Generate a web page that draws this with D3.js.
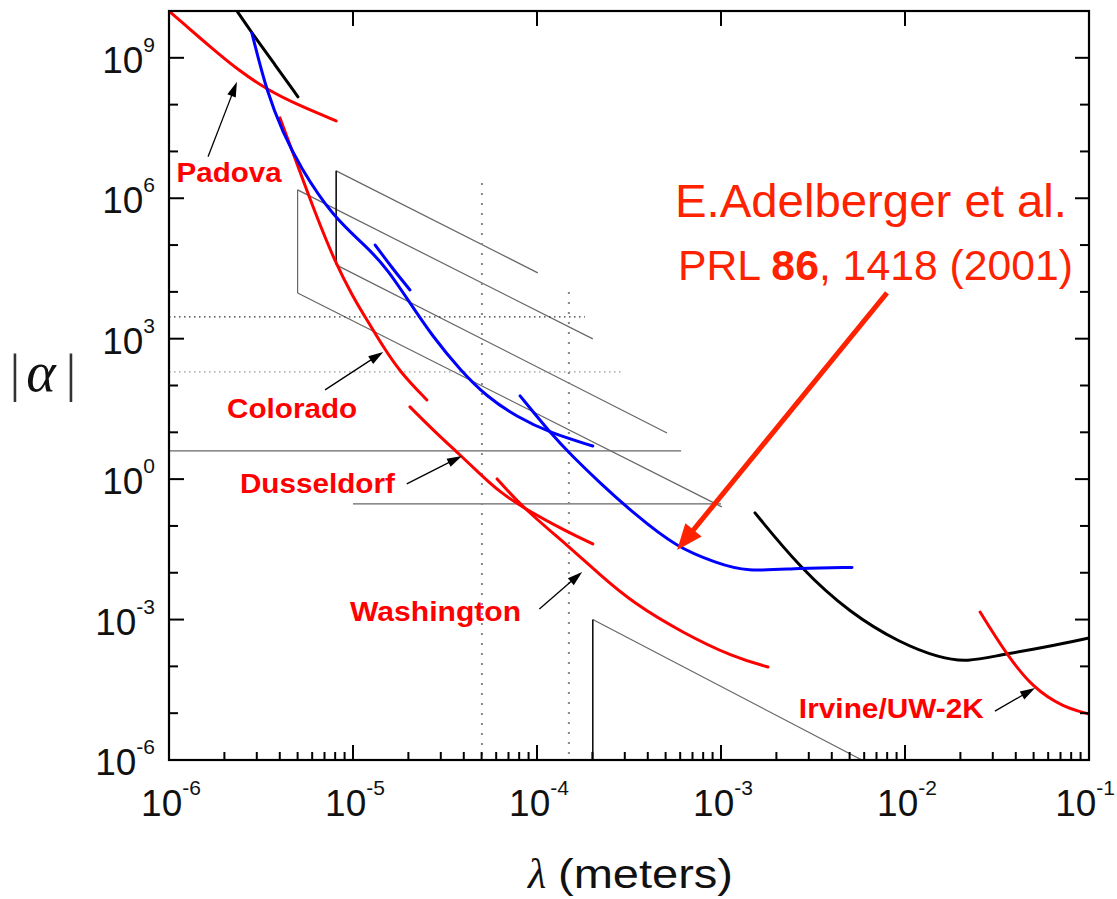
<!DOCTYPE html>
<html>
<head>
<meta charset="utf-8">
<script src="https://cdn.jsdelivr.net/npm/d3@7"></script>
<style>
  body { margin: 0; background: #fff; }
  svg { display: block; }
</style>
</head>
<body>
<div id="chart"></div>
<script>
// ---- data: [lambda (m), |alpha|] ----
const blackTop = [[2.34e-6, 1e10], [2.82e-6, 3.42e9], [3.77e-6, 7.1e8], [5.02e-6, 1.47e8]];
const padova = [[1e-6, 1e10], [1.22e-6, 5.07e9], [1.47e-6, 2.67e9], [1.89e-6, 1.16e9], [2.34e-6, 5.82e8],
                [3.41e-6, 2.07e8], [5.15e-6, 9.4e7], [8.1e-6, 4.5e7]];
const blueA = [[2.82e-6, 3.42e9], [3.41e-6, 1.79e8], [4.17e-6, 2.5e7], [5.15e-6, 4.7e6], [7.78e-6, 4.0e5],
               [1.19e-5, 9.2e4], [1.55e-5, 2.95e4], [2.04e-5, 5.8e3], [2.72e-5, 1.09e3], [3.82e-5, 215],
               [5.35e-5, 57], [7.78e-5, 21.3], [1.18e-4, 9.7], [2.01e-4, 5.1]];
const blueB = [[1.32e-5, 1.0e5], [1.63e-5, 3.26e4], [2.04e-5, 1.1e4]];
const blueC = [[8.09e-5, 60], [1.18e-4, 9.7], [1.57e-4, 2.98], [2.2e-4, 0.83], [3.33e-4, 0.19],
               [5.77e-4, 0.034], [9.5e-4, 0.0162], [1.35e-3, 0.0104], [2.69e-3, 0.0127], [5.15e-3, 0.013]];
const colorado = [[4.01e-6, 5.2e7], [5.15e-6, 3.66e6], [6.29e-6, 4.4e5], [7.98e-6, 4.38e4], [1e-5, 7.8e3],
                  [1.19e-5, 2.52e3], [1.46e-5, 668], [1.8e-5, 195], [2.52e-5, 49]];
const dusseldorf = [[2.04e-5, 34.9], [2.79e-5, 10.2], [3.82e-5, 3.29], [5.1e-5, 1.11], [6.3e-5, 0.53],
                    [8.4e-5, 0.243], [1.46e-4, 0.0745], [2.01e-4, 0.0412]];
const washington = [[6.07e-5, 1.01], [8.4e-5, 0.243], [1.46e-4, 0.039], [2.2e-4, 8.97e-3], [3.33e-4, 2.26e-3],
                    [6.21e-4, 5.18e-4], [1.16e-3, 1.59e-4], [1.8e-3, 9.7e-5]];
const blackRight = [[1.53e-3, 0.19], [2.69e-3, 0.0127], [5.02e-3, 1.38e-3], [9.4e-3, 3.16e-4], [1.55e-2, 1.51e-4],
                    [2.17e-2, 1.24e-4], [3.28e-2, 1.75e-4], [5.92e-2, 2.6e-4], [0.1, 4.05e-4]];
const irvine = [[2.56e-2, 1.45e-3], [3.58e-2, 1.75e-4], [4.97e-2, 3.45e-5], [7.23e-2, 1.35e-5], [0.1, 9.6e-6]];

// thin projection / limit lines
const grayLines = [
  [[5.0e-6, 1.51e6], [5.0e-6, 9.5e3]],
  [[5.0e-6, 1.51e6], [2.01e-4, 991]],
  [[5.0e-6, 9.5e3], [1.01e-3, 0.255]],
  [[8.1e-6, 3.85e6], [1.01e-4, 2.55e4]],
  [[8.1e-6, 3.78e4], [5.09e-4, 9.7]],
  [[1e-6, 4.0], [6.07e-4, 4.0]],
  [[1e-5, 0.295], [1e-3, 0.295]],
  [[2.01e-4, 1e-3], [5.83e-3, 1e-6]]
];
const blackThin = [
  [[8.1e-6, 3.85e6], [8.1e-6, 3.78e4]],
  [[2.01e-4, 1e-6], [2.01e-4, 1e-3]]
];
const darkDotted = [[[1e-6, 2.93e3], [1.82e-4, 2.93e3]]];
const lightDotted = [[[1e-6, 195], [2.93e-4, 195]]];
const wideDotted = [
  [[5.02e-5, 2.13e6], [5.02e-5, 1e-6]],
  [[1.49e-4, 1e4], [1.49e-4, 1e-6]]
];

// labels and their arrows (tail -> tip)
const labelNames = ["Padova", "Colorado", "Dusseldorf", "Washington", "Irvine/UW-2K"];
const labelPos = [[1.10e-6, 2.24e6], [2.07e-6, 20.3], [2.43e-6, 0.507], [9.64e-6, 9.3e-4], [2.65e-3, 7.9e-6]];
const labelWidth = [105, 130, 155, 171, 185];
const arrows = [
  [[1.63e-6, 7.7e6], [2.34e-6, 3.07e8]],
  [[7.05e-6, 80.5], [1.46e-5, 522]],
  [[1.96e-5, 0.79], [3.91e-5, 3.13]],
  [[1.03e-4, 1.68e-3], [1.76e-4, 0.0104]],
  [[3.08e-2, 1.11e-5], [5.09e-2, 3.45e-5]]
];
const refArrow = [[7.98e-3, 9.5e3], [5.77e-4, 0.0307]];

const xMajor = [-6, -5, -4, -3, -2, -1];
const yMajor = [-6, -3, 0, 3, 6, 9];

// ---- chart ----
const width = 1117, height = 899;
const x = d3.scaleLog().domain([1e-6, 1e-1]).range([169, 1089]);
const y = d3.scaleLog().domain([1e-6, 1e10]).range([760, 11]);

const svg = d3.select("#chart").append("svg")
    .attr("width", width)
    .attr("height", height)
    .attr("font-family", "'Liberation Sans', Arial, sans-serif");

svg.append("clipPath").attr("id", "plotClip")
  .append("rect")
    .attr("x", x.range()[0]).attr("y", y.range()[1])
    .attr("width", x.range()[1] - x.range()[0])
    .attr("height", y.range()[0] - y.range()[1]);

const plot = svg.append("g").attr("clip-path", "url(#plotClip)");

const seg = d3.line().x(d => x(d[0])).y(d => y(d[1]));
const curve = d3.line().x(d => x(d[0])).y(d => y(d[1])).curve(d3.curveBasis);

function drawSegs(list, color, w, dash) {
  plot.append("g").selectAll("path").data(list).join("path")
    .attr("d", seg)
    .attr("fill", "none")
    .attr("stroke", color)
    .attr("stroke-width", w)
    .attr("stroke-dasharray", dash || null);
}
drawSegs(grayLines, "#666", 1.2);
drawSegs(blackThin, "#111", 1.6);
drawSegs(darkDotted, "#333", 1.4, "1.5,3.5");
drawSegs(lightDotted, "#999", 1.4, "1.5,3.5");
drawSegs(wideDotted, "#888", 2, "2,8");

const curves = [
  [blackTop, "#000"], [blackRight, "#000"],
  [padova, "#ff0000"], [colorado, "#ff0000"], [dusseldorf, "#ff0000"], [washington, "#ff0000"], [irvine, "#ff0000"],
  [blueA, "#0000ff"], [blueB, "#0000ff"], [blueC, "#0000ff"]
];
plot.append("g").selectAll("path").data(curves).join("path")
  .attr("d", d => curve(d[0]))
  .attr("fill", "none")
  .attr("stroke", d => d[1])
  .attr("stroke-width", 3)
  .attr("stroke-linecap", "round");

// arrows drawn in screen space from data endpoints
function arrow(g, a, color, w, headLen, headW) {
  const x0 = x(a[0][0]), y0 = y(a[0][1]), x1 = x(a[1][0]), y1 = y(a[1][1]);
  const L = Math.hypot(x1 - x0, y1 - y0), ux = (x1 - x0) / L, uy = (y1 - y0) / L;
  const bx = x1 - ux * headLen, by = y1 - uy * headLen;
  g.append("line")
    .attr("x1", x0).attr("y1", y0)
    .attr("x2", x1 - ux * headLen * 0.7).attr("y2", y1 - uy * headLen * 0.7)
    .attr("stroke", color).attr("stroke-width", w);
  g.append("path")
    .attr("d", `M${x1},${y1}L${bx - uy * headW / 2},${by + ux * headW / 2}L${bx + uy * headW / 2},${by - ux * headW / 2}Z`)
    .attr("fill", color);
}
const arrowG = svg.append("g");
arrows.forEach(a => arrow(arrowG, a, "#000", 1.3, 15, 9));
arrow(arrowG, refArrow, "#ff2200", 5, 26, 21);

// red labels
svg.append("g").selectAll("text").data(labelNames).join("text")
  .attr("x", (d, i) => x(labelPos[i][0]))
  .attr("y", (d, i) => y(labelPos[i][1]))
  .attr("font-size", 27)
  .attr("font-weight", "bold")
  .attr("fill", "#ff0000")
  .attr("textLength", (d, i) => labelWidth[i])
  .attr("lengthAdjust", "spacingAndGlyphs")
  .text(d => d);

// frame
const frame = svg.append("g").attr("stroke", "#000").attr("stroke-width", 2.2).attr("fill", "none");
frame.append("rect")
  .attr("x", x.range()[0]).attr("y", y.range()[1])
  .attr("width", x.range()[1] - x.range()[0])
  .attr("height", y.range()[0] - y.range()[1]);

// ticks
const xMinor = [];
xMajor.slice(0, -1).forEach(e => { for (let k = 2; k <= 9; k++) xMinor.push(k * Math.pow(10, e)); });
const yMinor = d3.range(-5, 10).filter(e => !yMajor.includes(e)).map(e => Math.pow(10, e));
const ticks = svg.append("g").attr("stroke", "#000").attr("stroke-width", 2);
xMajor.forEach(e => {
  const px = x(Math.pow(10, e));
  ticks.append("line").attr("x1", px).attr("x2", px).attr("y1", 760).attr("y2", 745);
  ticks.append("line").attr("x1", px).attr("x2", px).attr("y1", 11).attr("y2", 26);
});
xMinor.forEach(v => {
  ticks.append("line").attr("x1", x(v)).attr("x2", x(v)).attr("y1", 760).attr("y2", 752);
});
yMajor.forEach(e => {
  const py = y(Math.pow(10, e));
  ticks.append("line").attr("x1", 169).attr("x2", 184).attr("y1", py).attr("y2", py);
  ticks.append("line").attr("x1", 1089).attr("x2", 1075).attr("y1", py).attr("y2", py);
});
yMinor.forEach(v => {
  ticks.append("line").attr("x1", 169).attr("x2", 178).attr("y1", y(v)).attr("y2", y(v));
  ticks.append("line").attr("x1", 1089).attr("x2", 1080).attr("y1", y(v)).attr("y2", y(v));
});

// tick labels 10^n
function powLabel(sel) {
  sel.append("tspan").attr("font-size", 37).text("10");
  sel.append("tspan").attr("font-size", 21).attr("dy", -21).text(d => d);
}
const lastX = xMajor[xMajor.length - 1];
svg.append("g").selectAll("text").data(xMajor).join("text")
  .attr("x", d => d === lastX ? width - 2 : x(Math.pow(10, d)) + 2)
  .attr("y", 816)
  .attr("text-anchor", d => d === lastX ? "end" : "middle")
  .attr("fill", "#111")
  .call(powLabel);
svg.append("g").selectAll("text").data(yMajor).join("text")
  .attr("x", 155)
  .attr("y", d => y(Math.pow(10, d)) + 15)
  .attr("text-anchor", "end")
  .attr("fill", "#111")
  .call(powLabel);

// axis titles
const serif = "'Liberation Serif', 'Times New Roman', serif";
svg.append("text").attr("x", 15).attr("y", 391).attr("text-anchor", "middle")
  .attr("font-family", serif).attr("font-size", 52).attr("fill", "#333").text("|");
svg.append("text").attr("x", 71).attr("y", 391).attr("text-anchor", "middle")
  .attr("font-family", serif).attr("font-size", 52).attr("fill", "#333").text("|");
svg.append("text").attr("x", 41).attr("y", 391).attr("text-anchor", "middle")
  .attr("font-family", serif).attr("font-style", "italic").attr("font-size", 56).attr("fill", "#111").text("α");

svg.append("text").attr("x", 537).attr("y", 888).attr("text-anchor", "middle")
  .attr("font-family", serif).attr("font-style", "italic").attr("font-size", 42).attr("fill", "#111").text("λ");
svg.append("text").attr("x", 558).attr("y", 888)
  .attr("font-size", 40).attr("fill", "#111")
  .attr("textLength", 175).attr("lengthAdjust", "spacingAndGlyphs")
  .text("(meters)");

// reference annotation
svg.append("text").attr("x", 675).attr("y", 217)
  .attr("font-size", 46).attr("fill", "#ff2200")
  .attr("textLength", 392).attr("lengthAdjust", "spacingAndGlyphs")
  .text("E.Adelberger et al.");
const ref = svg.append("text").attr("x", 678).attr("y", 280)
  .attr("font-size", 42).attr("fill", "#ff2200")
  .attr("textLength", 395).attr("lengthAdjust", "spacingAndGlyphs");
ref.append("tspan").text("PRL ");
ref.append("tspan").attr("font-weight", "bold").text("86");
ref.append("tspan").text(", 1418 (2001)");
</script>
</body>
</html>
